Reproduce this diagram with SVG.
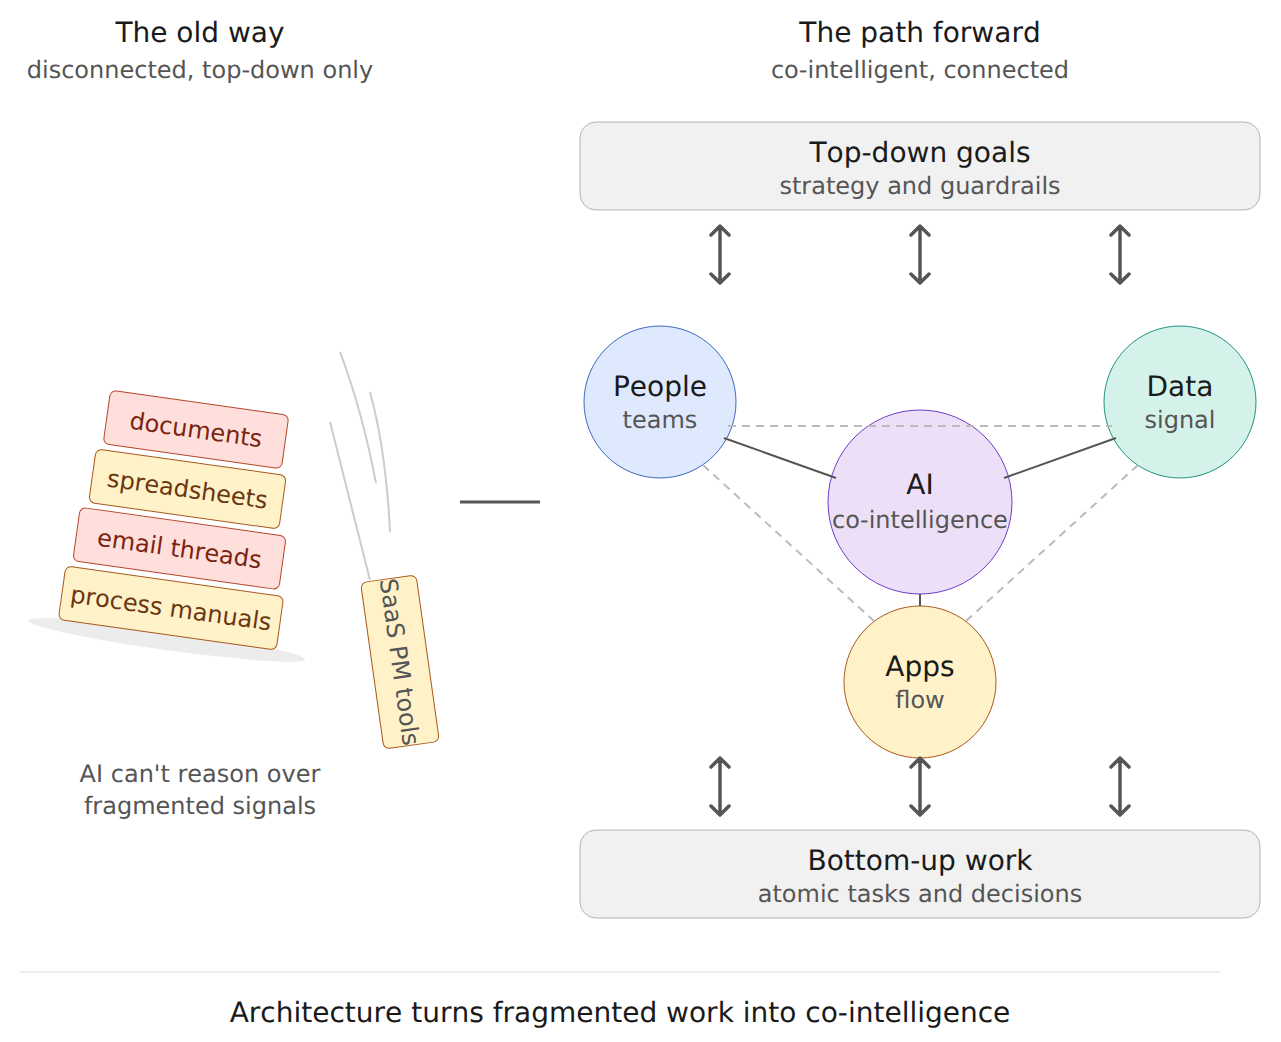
<svg xmlns="http://www.w3.org/2000/svg" width="1281" height="1042" viewBox="0 0 1281 1042">
<style>
text{font-family:"DejaVu Sans",sans-serif;text-anchor:middle;text-rendering:geometricPrecision;font-kerning:none}
.t{font-size:28px;fill:#1a1a1a}
.s{font-size:24px;fill:#555}
.b{fill:#f1f1f1;stroke:#b4b4b4;stroke-width:1}
.dash{stroke:#bbb;stroke-width:2;stroke-dasharray:8 6;fill:none}
.solid{stroke:#555;stroke-width:2;fill:none}
.heavy{stroke:#555;stroke-width:3;fill:none}
.sk{stroke:#ccc;stroke-width:2;fill:none}
.dbl{stroke:#555;stroke-width:3.500;fill:none;stroke-linecap:round;stroke-linejoin:round}
.red{fill:#ffdfdb;stroke:#b5462a;stroke-width:1}
.yel{fill:#fff2c8;stroke:#a8591c;stroke-width:1}
.lr{font-size:24px;fill:#7a2410}
.ly{font-size:24px;fill:#6b3510}
</style>
<rect width="1281" height="1042" fill="#fff"/>
<g id="headers">
<text class="t" x="200" y="42">The old way</text>
<text class="s" x="200" y="78">disconnected, top-down only</text>
<text class="t" x="920" y="42">The path forward</text>
<text class="s" x="920" y="78">co-intelligent, connected</text>
</g>
<g id="top-goals">
<rect class="b" x="580" y="122" width="680" height="88" rx="16"/>
<text class="t" x="920" y="162">Top-down goals</text>
<text class="s" x="920" y="194">strategy and guardrails</text>
</g>
<g id="bottom-work">
<rect class="b" x="580" y="830" width="680" height="88" rx="16"/>
<text class="t" x="920" y="870">Bottom-up work</text>
<text class="s" x="920" y="902">atomic tasks and decisions</text>
</g>
<g id="shadow"><ellipse cx="166.500" cy="640" rx="140" ry="10" transform="rotate(8 166.500 640)" fill="#ececec"/></g>
<g id="documents" transform="translate(196 429.500) rotate(8)">
<rect class="red" x="-90" y="-27" width="180" height="54" rx="6"/>
<text class="lr" y="8.500">documents</text>
</g>
<g id="spreadsheets" transform="translate(187.500 489) rotate(8)">
<rect class="yel" x="-96" y="-27" width="192" height="54" rx="6"/>
<text class="ly" y="8.500">spreadsheets</text>
</g>
<g id="email-threads" transform="translate(179.500 548.500) rotate(8)">
<rect class="red" x="-104" y="-27" width="208" height="54" rx="6"/>
<text class="lr" y="8.500">email threads</text>
</g>
<g id="process-manuals" transform="translate(171 608) rotate(8)">
<rect class="yel" x="-110" y="-27" width="220" height="54" rx="6"/>
<text class="ly" y="8.500">process manuals</text>
</g>
<g id="saas-pm-tools" transform="translate(400 662) rotate(82)">
<rect class="yel" x="-84" y="-28" width="168" height="56" rx="6"/>
<text font-size="24" fill="#555" y="8.500">SaaS PM tools</text>
</g>
<g id="caption">
<text class="s" x="200" y="782">AI can't reason over</text>
<text class="s" x="200" y="814">fragmented signals</text>
</g>
<g id="people">
<circle cx="660" cy="402" r="76" fill="#dfe9fd" stroke="#3d68c0" stroke-width="1"/>
<text class="t" x="660" y="396">People</text>
<text class="s" x="660" y="428">teams</text>
</g>
<g id="data">
<circle cx="1180" cy="402" r="76" fill="#d5f2ea" stroke="#1f9482" stroke-width="1"/>
<text class="t" x="1180" y="396">Data</text>
<text class="s" x="1180" y="428">signal</text>
</g>
<g id="ai">
<circle cx="920" cy="502" r="92" fill="#ecdff7" stroke="#6d3fc9" stroke-width="1"/>
<text class="t" x="920" y="494">AI</text>
<text class="s" x="920" y="528">co-intelligence</text>
</g>
<g id="apps">
<circle cx="920" cy="682" r="76" fill="#fff2c8" stroke="#a8591c" stroke-width="1"/>
<text class="t" x="920" y="676">Apps</text>
<text class="s" x="920" y="708">flow</text>
</g>
<g id="connectors">
<path class="sk" d="M340 352Q362 410 376 483"/>
<path class="sk" d="M370 392Q386 450 390 532"/>
<path class="sk" d="M330 422L370 580"/>
<path class="heavy" d="M460 502H540"/>
<path class="dash" d="M728 426H1112"/>
<path class="dash" d="M703 465L875 622"/>
<path class="dash" d="M1138 465L965 622"/>
<path class="solid" d="M724 438L836 478"/>
<path class="solid" d="M1116 438L1004 478"/>
<path class="solid" d="M920 594V606"/>
<g class="dbl">
<path d="M720 226V283M711 235L720 226L729 235M711 274L720 283L729 274"/>
<path d="M920 226V283M911 235L920 226L929 235M911 274L920 283L929 274"/>
<path d="M1120 226V283M1111 235L1120 226L1129 235M1111 274L1120 283L1129 274"/>
<path d="M720 758V815M711 767L720 758L729 767M711 806L720 815L729 806"/>
<path d="M920 758V815M911 767L920 758L929 767M911 806L920 815L929 806"/>
<path d="M1120 758V815M1111 767L1120 758L1129 767M1111 806L1120 815L1129 806"/>
</g>
</g>
<g id="footer">
<path d="M20 972H1220" stroke="#eee" stroke-width="2"/>
<text class="t" x="620" y="1022">Architecture turns fragmented work into co-intelligence</text>
</g>
</svg>
